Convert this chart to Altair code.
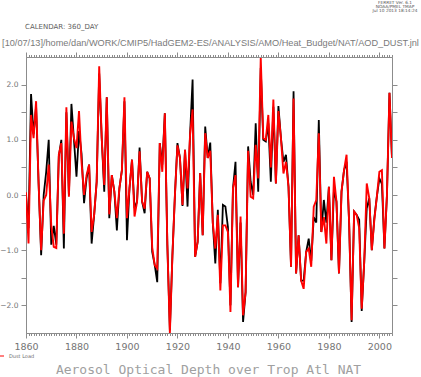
import altair as alt
import pandas as pd

years = list(range(1860, 2006))

black_vals = [
    0.0, -0.6, 1.83, 1.1, 1.6, 0.2, -1.09, 0.0, 0.42, 1.0,
    -0.9, -0.56, -0.9, 0.7, 1.0, -0.97, 1.5, 0.0, 1.65, 1.0,
    0.33, 1.16, 0.75, -0.15, 0.3, 0.55, -0.88, -0.36, 0.24, 2.2,
    1.03, 0.06, 1.77, -0.42, 0.36, 0.06, -0.64, 0.12, 0.45, 1.7,
    -0.82, 0.12, 0.64, -0.24, -0.12, 0.86, -0.12, -0.33, 0.42, 0.3,
    -1.03, -1.27, -1.58, 0.94, 0.55, 1.48, -0.9, -2.45, -1.1, 0.0,
    0.94, 0.67, -0.2, 0.82, -0.21, 1.1, 2.09, -1.12, -0.85, 0.4,
    -0.73, 1.24, 0.67, 0.95, -0.5, -1.24, -0.27, -1.6, -0.18, -0.21,
    -0.58, -2.0, 0.12, 0.6, -1.67, -0.5, -2.3, -1.76, 0.88, 0.24,
    0.0, 1.3, 0.06, 2.3, 1.0, 0.97, 1.3, 0.24, 1.6, 0.21,
    1.61, 1.03, 0.6, 0.73, 0.15, -1.3, 1.88, -1.42, -0.73, -1.55,
    -1.55, -1.03, -0.79, -1.2, -0.4, -0.5, 1.36, -0.67, -0.09, -0.5,
    0.15, -1.18, 0.1, -0.12, -1.42, 0.06, 0.45, 0.6, -0.48, -2.3,
    -0.3, -0.36, -0.45, -2.1, -1.21, -0.24, -0.06, -1.0, -0.42, -0.03,
    0.3, 0.2, -0.97, 0.0, 1.85, 0.67,
]

red_vals = [
    0.05, -0.88, 1.45, 1.03, 1.70, 0.2, -1.0, -0.1, 0.0, 0.55,
    -0.55, -0.94, -0.96, 0.73, 0.94, -0.7, 1.59, -0.03, 1.33, 1.03,
    0.85, 1.52, 0.6, 0.0, 0.36, 0.55, -0.67, -0.36, 0.24, 2.33,
    1.03, 0.18, 1.77, -0.35, 0.36, 0.06, -0.42, 0.12, 0.45, 1.77,
    -0.42, 0.12, 0.64, -0.39, -0.12, 0.79, -0.12, -0.25, 0.42, 0.3,
    -0.95, -1.27, -1.33, 0.94, 0.42, 1.48, -0.9, -2.5, -1.1, 0.0,
    0.9, 0.67, -0.18, 0.82, 0.12, 1.09, 1.55, -1.12, -0.85, 0.4,
    -0.73, 1.12, 0.67, 0.8, -0.5, -0.97, -0.36, -1.73, -0.55, -0.55,
    -0.67, -2.12, 0.12, 0.36, -1.67, -0.39, -2.18, -1.76, 0.8, -0.03,
    -0.06, 0.91, 0.3, 2.48, 1.03, 1.0, 1.45, 0.5, 1.73, 0.21,
    1.52, 1.03, 0.39, 0.6, 0.15, -1.3, 1.75, -1.42, -0.73, -1.55,
    -1.7, -1.03, -0.97, -1.3, -0.21, -0.09, 1.12, -0.67, -0.4, -0.88,
    0.15, -1.18, 0.33, -0.12, -1.42, 0.06, 0.45, 0.73, -0.48, -2.27,
    -0.3, -0.36, -0.6, -2.06, -1.21, 0.21, -0.06, -1.0, -0.45, -0.03,
    0.42, 0.45, -0.97, 0.0, 1.85, 0.67,
]

y_ticks = [-2.0, -1.5, -1.0, -0.5, 0.0, 0.5, 1.0, 1.5, 2.0]
x_major = [1860, 1880, 1900, 1920, 1940, 1960, 1980, 2000]
x_minor = list(range(1860, 2006))

header_lines = ["FERRET Ver. 6.1", "NOAA/PMEL TMAP", "Jul 10 2013 18:14:24"]
calendar_text = ["CALENDAR: 360_DAY"]
path_text = ["[10/07/13]/home/dan/WORK/CMIP5/HadGEM2-ES/ANALYSIS/AMO/Heat_Budget/NAT/AOD_DUST.jnl"]
legend_label = ["Dust Load"]
title_text = ["Aerosol Optical Depth over Trop Atl NAT"]

df = pd.DataFrame({"year": years, "black": black_vals, "red": red_vals})

W, H = 366, 276
grey = "#8c8c8c"
xs = alt.Scale(domain=[1860, 2005], nice=False, zero=False)
ys = alt.Scale(domain=[-2.5, 2.5], nice=False, zero=False)
common = dict(grid=False, domainColor=grey, tickColor=grey, labelColor="#747474",
              labelFont="DejaVu Sans", title=None, tickWidth=1, domainWidth=1)
minor_common = {k: v for k, v in common.items() if k not in ("domainColor", "domainWidth")}

base = alt.Chart(df)

black_line = base.mark_line(color="black", strokeWidth=1.8, clip=True).encode(
    x=alt.X("year:Q", scale=xs, axis=alt.Axis(orient="bottom", values=x_major, tickSize=5,
            labelFontSize=9.5, labelPadding=3, labelFlush=False, format="d", **common)),
    y=alt.Y("black:Q", scale=ys, axis=alt.Axis(orient="left", values=y_ticks, tickSize=5,
            labelFontSize=7.5, labelPadding=3,
            labelExpr="datum.value % 1 == 0 ? format(datum.value, '.1f') : ''", **common)),
)

red_line = base.mark_line(color="#ff0000", strokeWidth=1.9, clip=True).encode(
    x=alt.X("year:Q", scale=xs, axis=alt.Axis(orient="top", values=x_major, tickSize=5,
            labels=False, **common)),
    y=alt.Y("red:Q", scale=ys, axis=alt.Axis(orient="right", values=y_ticks, tickSize=5,
            labels=False, **common)),
)

minor_bottom = base.mark_line(strokeOpacity=0).encode(
    x=alt.X("year:Q", scale=xs, axis=alt.Axis(orient="bottom", values=x_minor, tickSize=2.5,
            labels=False, domain=False, **minor_common)),
    y=alt.Y("red:Q", scale=ys, axis=None),
)

minor_top = base.mark_line(strokeOpacity=0).encode(
    x=alt.X("year:Q", scale=xs, axis=alt.Axis(orient="top", values=x_minor, tickSize=2.5,
            labels=False, domain=False, **minor_common)),
    y=alt.Y("red:Q", scale=ys, axis=None),
)

hdr = alt.Chart(pd.DataFrame({"t": ["\n".join(header_lines)]})).mark_text(
    font="DejaVu Sans", fontSize=4.3, color="#555555", align="center", baseline="top",
    lineBreak="\n", lineHeight=4
).encode(text="t:N", x=alt.value(369), y=alt.value(-56))

cal = alt.Chart(pd.DataFrame({"t": calendar_text})).mark_text(
    font="DejaVu Sans", fontSize=7, color="#606060", align="left", baseline="middle"
).encode(text="t:N", x=alt.value(-1), y=alt.value(-30))

path = alt.Chart(pd.DataFrame({"t": path_text})).mark_text(
    font="Liberation Sans", fontSize=9.2, color="#7a7a7a", align="center", baseline="middle"
).encode(text="t:N", x=alt.value(184.5), y=alt.value(-14.5))

leg_df = pd.DataFrame({"t": legend_label})
leg_line = alt.Chart(leg_df).mark_rule(color="#ff0000", strokeWidth=1).encode(
    x=alt.value(-26), x2=alt.value(-22), y=alt.value(299))
leg_text = alt.Chart(leg_df).mark_text(
    font="DejaVu Sans", fontSize=5, color="#6e6e6e", align="left", baseline="middle"
).encode(text="t:N", x=alt.value(-17), y=alt.value(299))

ttl = alt.Chart(pd.DataFrame({"t": title_text})).mark_text(
    font="DejaVu Sans Mono", fontSize=13, color="#a0a0a0", align="center", baseline="middle"
).encode(text="t:N", x=alt.value(182.5), y=alt.value(312.5))

chart = alt.layer(
    minor_bottom, minor_top, black_line, red_line, hdr, cal, path, leg_line, leg_text, ttl
).resolve_scale(x="independent", y="independent").properties(
    width=W, height=H,
    autosize=alt.AutoSizeParams(type="none"),
    padding={"left": 26, "top": 57, "right": 29, "bottom": 44},
).configure_view(stroke=None).configure(background="white")

chart.save("out.html", embed_options={"renderer": "svg", "actions": False})
